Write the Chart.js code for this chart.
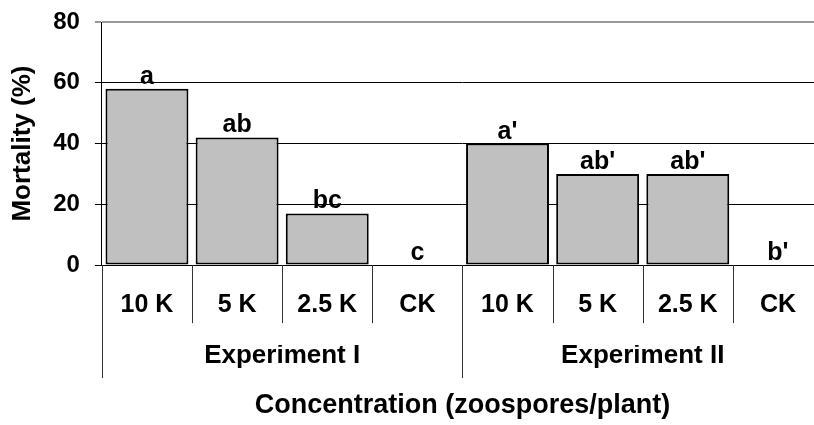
<!DOCTYPE html>
<html>
<head>
<meta charset="utf-8">
<script src="https://cdn.jsdelivr.net/npm/chart.js@4/dist/chart.umd.min.js"></script>
<style>
  html,body{margin:0;padding:0;background:#fff;overflow:hidden}
  #wrap{position:relative;width:824px;height:425px}
</style>
</head>
<body>
<div id="wrap"><canvas id="chart"></canvas></div>
<script>
// chart values
const concLabels = ['10 K','5 K','2.5 K','CK','10 K','5 K','2.5 K','CK'];
const groupLabels = ['Experiment I','Experiment II'];
const mortality = [58, 42, 17, 0, 40, 30, 30, 0];
const letters = ['a','ab','bc','c',"a'","ab'","ab'","b'"];
const yTicks = [0, 20, 40, 60, 80];
const perGroup = 4;

const FONT = 'Arial, "Liberation Sans", Helvetica, sans-serif';

// letters above each bar, placed from the bar element itself
const letterPlugin = {
  id: 'letters',
  afterDatasetsDraw(chart){
    const ctx = chart.ctx;
    const meta = chart.getDatasetMeta(0);
    ctx.save();
    ctx.font = 'bold 25px ' + FONT;
    ctx.fillStyle = '#000';
    ctx.textAlign = 'center';
    ctx.textBaseline = 'alphabetic';
    meta.data.forEach((bar, i) => {
      ctx.fillText(letters[i], bar.x, bar.y - 5);
    });
    ctx.restore();
  }
};

// category / group separators below the axis, taken from the x scale
const separatorPlugin = {
  id: 'separators',
  afterDraw(chart){
    const xs = chart.scales.x;
    const ctx = chart.ctx;
    const bottom = chart.chartArea.bottom;
    const half = (xs.getPixelForValue(1) - xs.getPixelForValue(0)) / 2;
    ctx.save();
    ctx.strokeStyle = '#333';
    ctx.lineWidth = 1;
    for (let i = 0; i <= concLabels.length; i++) {
      const px = Math.round(xs.getPixelForValue(i) - half) + 0.5;
      const depth = (i % perGroup === 0) ? 113 : 58;
      ctx.beginPath();
      ctx.moveTo(px, bottom);
      ctx.lineTo(px, bottom + depth);
      ctx.stroke();
    }
    ctx.restore();
  }
};

const ctx = document.getElementById('chart').getContext('2d');
new Chart(ctx, {
  type: 'bar',
  data: {
    labels: concLabels,
    datasets: [{
      data: mortality,
      backgroundColor: '#c0c0c0',
      borderColor: '#000',
      borderWidth: 2,
      borderSkipped: false,
      barPercentage: 0.92,
      categoryPercentage: 1.0
    }]
  },
  options: {
    responsive: true,
    maintainAspectRatio: false,
    animation: false,
    layout: { padding: { top: 2, right: 1, left: 0, bottom: 0 } },
    plugins: { legend: { display: false }, tooltip: { enabled: false } },
    scales: {
      x: {
        offset: true,
        border: { display: true, color: '#000', width: 1 },
        grid: { display: false, drawTicks: false },
        ticks: {
          autoSkip: false, maxRotation: 0, minRotation: 0, padding: 27.5,
          color: '#000', font: { family: FONT, size: 25, weight: 'bold', lineHeight: 1 }
        }
      },
      x2: {
        type: 'category',
        labels: groupLabels,
        position: 'bottom',
        offset: true,
        border: { display: false },
        grid: { display: false, drawTicks: false },
        ticks: {
          autoSkip: false, maxRotation: 0, minRotation: 0, padding: -2,
          color: '#000', font: { family: FONT, size: 26, weight: 'bold', lineHeight: 1 }
        },
        title: {
          display: true,
          text: 'Concentration (zoospores/plant)',
          color: '#000',
          font: { family: FONT, size: 27, weight: 'bold' },
          padding: { top: 22.5, bottom: 3 }
        }
      },
      y: {
        min: 0, max: 80,
        afterBuildTicks(axis){ axis.ticks = yTicks.map(v => ({ value: v })); },
        // keep the plot top close to the "80" label, as in the original
        afterFit(axis){ axis.paddingTop = 22; },
        border: { display: true, color: '#000', width: 1 },
        grid: {
          drawTicks: true, tickLength: 7,
          color: c => (c.tick && c.tick.value === 80) ? '#999' : '#000',
          lineWidth: c => (c.tick && c.tick.value === 80) ? 2 : 1
        },
        ticks: { padding: 15, color: '#000', font: { family: FONT, size: 24, weight: 'bold' } },
        title: {
          display: true,
          text: 'Mortality (%)',
          color: '#000',
          font: { family: FONT, size: 26, weight: 'bold' },
          padding: { top: 7, bottom: 0 }
        }
      }
    }
  },
  plugins: [letterPlugin, separatorPlugin]
});
</script>
</body>
</html>
